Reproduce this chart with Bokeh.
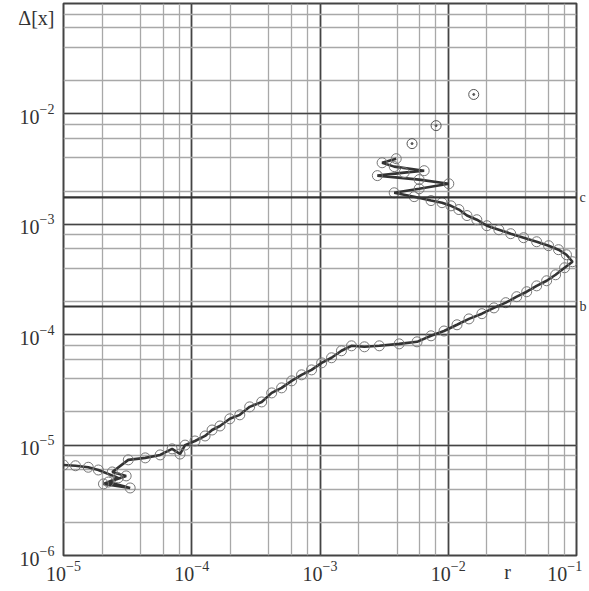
from bokeh.plotting import figure
from bokeh.models import Span, LogAxis, LogTicker, FixedTicker
from bokeh.embed import file_html
from bokeh.resources import INLINE

# curve r vs Delta[x]
r_vals = [1.00e-5, 1.24e-5, 1.56e-5, 1.87e-5, 2.67e-5, 2.05e-5, 3.31e-5, 2.24e-5,
          3.08e-5, 2.40e-5, 3.20e-5, 4.34e-5, 5.67e-5, 7.03e-5, 8.1e-5, 8.87e-5,
          1.06e-4, 1.27e-4, 1.44e-4, 1.66e-4, 1.98e-4, 2.37e-4, 2.83e-4, 3.51e-4,
          4.20e-4, 5.02e-4, 6.01e-4, 7.18e-4, 8.59e-4, 1.03e-3, 1.23e-3, 1.47e-3,
          1.76e-3, 2.22e-3, 2.90e-3, 4.14e-3, 5.71e-3, 7.34e-3, 9.27e-3, 1.17e-2,
          1.45e-2, 1.83e-2, 2.27e-2, 2.81e-2, 3.42e-2, 4.09e-2, 4.89e-2, 5.85e-2,
          6.87e-2, 8.07e-2, 9.31e-2, 8.35e-2, 7.24e-2, 6.06e-2, 4.89e-2, 3.87e-2,
          3.07e-2, 2.48e-2, 2.00e-2, 1.67e-2, 1.40e-2, 1.21e-2, 1.05e-2, 8.94e-3,
          7.34e-3, 5.42e-3, 3.79e-3, 5.93e-3, 1.01e-2, 5.93e-3, 2.80e-3, 4.53e-3,
          6.49e-3, 3.79e-3, 3.05e-3, 3.93e-3]
dx_vals = [6.6e-6, 6.5e-6, 6.3e-6, 5.95e-6, 5.05e-6, 4.45e-6, 4.09e-6, 4.63e-6,
           5.26e-6, 5.71e-6, 7.35e-6, 7.66e-6, 8.15e-6, 9.24e-6, 8.3e-6, 1.0e-5,
           1.09e-5, 1.21e-5, 1.37e-5, 1.49e-5, 1.73e-5, 1.88e-5, 2.22e-5, 2.46e-5,
           2.97e-5, 3.30e-5, 3.82e-5, 4.33e-5, 4.80e-5, 5.56e-5, 6.18e-5, 7.15e-5,
           7.93e-5, 7.77e-5, 7.93e-5, 8.26e-5, 8.62e-5, 9.77e-5, 1.08e-4, 1.23e-4,
           1.39e-4, 1.55e-4, 1.75e-4, 1.95e-4, 2.21e-4, 2.45e-4, 2.77e-4, 3.08e-4,
           3.49e-4, 4.04e-4, 4.58e-4, 5.30e-4, 5.89e-4, 6.40e-4, 6.95e-4, 7.56e-4,
           8.22e-4, 8.93e-4, 9.71e-4, 1.10e-3, 1.20e-3, 1.36e-3, 1.47e-3, 1.57e-3,
           1.64e-3, 1.78e-3, 1.93e-3, 2.10e-3, 2.33e-3, 2.54e-3, 2.76e-3, 2.94e-3,
           3.06e-3, 3.33e-3, 3.61e-3, 3.93e-3]

# isolated points
r_iso = [5.22e-3, 8.04e-3, 1.58e-2]
dx_iso = [5.38e-3, 7.83e-3, 1.50e-2]

# reference levels and their names
levels = [1.75e-3, 1.8e-4]
level_names = ["c", "b"]

# tick positions; the axis titles sit in the tick rows
x_ticks = [2.9e-2, 1e-5, 1e-4, 1e-3, 1e-2, 8.1e-2]
x_title = "r"
y_ticks = [1e-6, 1e-5, 1e-4, 1e-3, 1e-2, 7.4e-2]
y_title = "Δ[x]"

FONT = "Liberation Serif"
TXT = "#333333"

p = figure(width=589, height=588, x_axis_type="log", y_axis_type="log",
           x_range=(1e-5, 1e-1), y_range=(1e-6, 1e-1),
           output_backend="svg", toolbar_location=None,
           min_border_left=63, min_border_right=11, min_border_top=3, min_border_bottom=33)

p.background_fill_color = "white"
p.outline_line_color = "#444444"
p.outline_line_width = 2

p.xaxis[0].ticker = FixedTicker(ticks=x_ticks, minor_ticks=[])
p.yaxis[0].ticker = FixedTicker(ticks=y_ticks, minor_ticks=[])
p.xaxis[0].major_label_overrides = {x_ticks[0]: x_title}
p.yaxis[0].major_label_overrides = {y_ticks[-1]: y_title}

right = LogAxis(ticker=FixedTicker(ticks=levels, minor_ticks=[]),
                major_label_overrides={lv: nm for lv, nm in zip(levels, level_names)})
p.add_layout(right, "right")

for ax in (p.xaxis[0], p.yaxis[0], right):
    ax.axis_line_color = None
    ax.major_tick_line_color = None
    ax.minor_tick_line_color = None
    ax.major_tick_out = 0
    ax.major_tick_in = 0
    ax.minor_tick_out = 0
    ax.minor_tick_in = 0
    ax.major_label_text_font = FONT
    ax.major_label_text_font_size = "20px"
    ax.major_label_text_color = TXT
p.xaxis[0].major_label_standoff = 5
p.yaxis[0].major_label_standoff = 9
right.major_label_standoff = 3
right.major_label_text_font_size = "14px"

for g in (p.xgrid[0], p.ygrid[0]):
    g.ticker = LogTicker()
    g.grid_line_color = "#444444"
    g.grid_line_width = 1.7
    g.minor_grid_line_color = "#a8a8a8"
    g.minor_grid_line_width = 1.3

for lv in levels:
    p.add_layout(Span(location=lv, dimension="width", line_color="#333333", line_width=2.2))

p.line(r_vals, dx_vals, line_color="#333333", line_width=2.6)
p.scatter(r_vals, dx_vals, size=10, marker="circle", fill_color=None,
          line_color="#777777", line_width=1)
p.scatter(r_iso, dx_iso, size=10, marker="circle", fill_color=None,
          line_color="#555555", line_width=1)
p.scatter(r_iso, dx_iso, size=2, marker="circle", fill_color="#555555",
          line_color="#555555")

open("out.html", "w").write(file_html(p, INLINE))
